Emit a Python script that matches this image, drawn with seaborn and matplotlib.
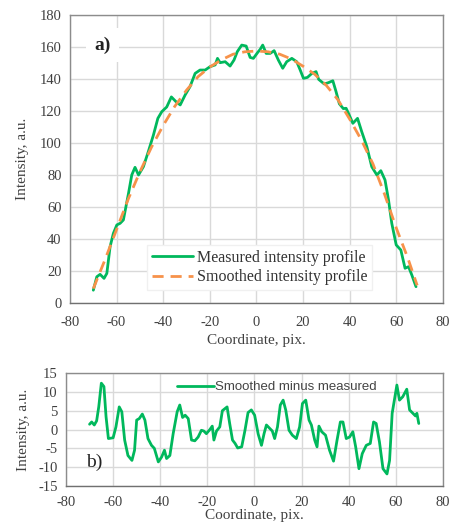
import numpy as np
import pandas as pd
import matplotlib
matplotlib.use("Agg")
import matplotlib.pyplot as plt
import seaborn as sns

# Measured intensity profile (panel a)
meas_x = [-70, -68.5, -67.1, -65.4, -64.2, -62.8, -61.4, -59.9, -58.5, -57.1,
          -56, -54.9, -53.5, -52.1, -50.6, -48.5, -46.4, -44.2, -42.3, -40.6,
          -38.5, -36.5, -34.5, -32.7, -30.6, -28.5, -26.3, -24.2, -22, -19.9,
          -17.7, -16.7, -15.6, -13.4, -11.3, -9.6, -8.2, -6.3, -4.4, -2.7,
          -1.3, 0.5, 1.6, 2.7, 4.2, 5.9, 7.6, 9.4, 11.3, 13,
          15.2, 17.3, 18.8, 20.2, 21.9, 23.8, 25.6, 26.7, 29.1, 30.9,
          32.8, 34.2, 35.6, 37.3, 38.5, 39.5, 41.4, 43.4, 45.2, 47.4,
          49.5, 51.7, 53.4, 55.2, 56.7, 58.1, 60, 62, 63.8, 65.3,
          66.7, 68.5]
meas_y = [8, 16.4, 17.9, 15.4, 18.5, 35.2, 43.5, 48.8, 49.8, 51.9,
          60.2, 68.5, 80, 84.8, 80, 85.2, 94.6, 105, 115.4, 119.6,
          122.5, 128.8, 125.8, 123.8, 130, 135.2, 143.5, 145.6, 145.6, 147.7,
          148.8, 152.9, 150.2, 150.8, 148.1, 151.9, 157.1, 161.2, 160.6, 153.5,
          152.9, 156.5, 158.5, 161.2, 156, 156, 157.7, 151.9, 146.7, 150.8,
          152.9, 150.8, 145.6, 140.4, 141, 143.5, 144.6, 139.8, 136.9, 137.7,
          138.9, 132, 124.5, 121.5, 121.7, 118.6, 112.3, 115.4, 107.1, 97.7,
          85.2, 80, 82.7, 76.9, 64.4, 49.8, 36.3, 33.1, 21.7, 22.7,
          17.5, 10.2]

# Smoothed intensity profile (panel a)
smooth_x = [-70, -65, -60, -55, -50, -45, -40, -35, -30, -25, -20, -15, -10, -5,
            0, 5, 10, 15, 20, 25, 30, 35, 40, 45, 50, 55, 60, 65, 69]
smooth_y = [9, 27, 46, 65, 82, 97.5, 111, 123, 133, 141.5, 147.5, 152, 155.5, 157,
            157.5, 157, 155.5, 152.5, 148, 143, 136, 127, 115, 102, 87, 68, 47, 28, 11]

# Smoothed minus measured (panel b)
diff_x = [-70, -69.1, -68, -67, -66.1, -65, -63.9, -63, -62, -60,
          -58.8, -57.4, -56.3, -55.1, -53.7, -52, -50.9, -50, -48.9, -47.6,
          -46.5, -45.2, -43.7, -42.5, -40.8, -39.4, -38.2, -37.3, -35.9, -34.5,
          -32.8, -31.7, -30.5, -29.4, -28.1, -26.7, -25.3, -23.9, -22.5, -21.5,
          -20.4, -18.9, -17.9, -17.2, -16.1, -14.7, -13.6, -11.6, -10.5, -9.3,
          -8.2, -7.1, -5.4, -4, -2.7, -1.3, 0.1, 1.6, 3, 4.1,
          5.1, 6.5, 7.6, 8.6, 9.8, 11, 12.2, 13.3, 14.7, 16.1,
          17.8, 19.2, 20.4, 21.8, 23.2, 24.2, 25.6, 26.6, 27.4, 28.6,
          30.2, 31.9, 33.6, 35.1, 36.5, 37.6, 39, 40.4, 41.8, 43,
          44.4, 45.8, 47.5, 49.2, 50.6, 51.7, 53.1, 54.6, 56.3, 57.4,
          58.5, 60.5, 61.6, 63, 64.7, 65.9, 67.3, 68.4, 69, 69.8]
diff_y = [1.4, 2, 1.2, 2.3, 6, 12.3, 11.4, 3.4, -2.4, -2.2,
          0.7, 6, 4.7, -2.8, -6.9, -8.2, -5.5, 2.5, 2.9, 4.1,
          2.5, -2.4, -4.2, -5, -8.6, -7.3, -5.5, -7.7, -6.9, -1.1,
          4.7, 6.5, 3.2, 3.8, 2.9, -2.8, -3, -2, -0.2, -0.4,
          -1.1, 0, 0.9, -2.8, -0.4, 0.7, 5, 6, 1.6, -2.8,
          -3.7, -4.9, -4.6, -0.2, 4.5, 5.2, 3.8, -1.2, -4.2, -1.1,
          1.2, 0.3, -0.4, -2.4, 0.7, 6.5, 7.8, 5.2, -0.2, -1.5,
          -2.4, 0.7, 6.9, 7.8, 2.5, 1.2, -2.8, -4.6, 0.9, -0.6,
          -1.5, -5.5, -8.4, -2.8, 2, 2, -2.4, -2, -0.6, -4.6,
          -10.4, -6.4, -4.2, -3.7, 2, 1.6, -3.3, -10.4, -11.8, -8.2,
          4.3, 11.8, 7.8, 8.7, 10.7, 5.2, 4.3, 3.6, 4.3, 1.6]

GREEN = "#00b85c"
ORANGE = "#f7924a"
TICK_COLOR = "#404040"
GRID_COLOR = "#d9d9d9"

sns.set_style("whitegrid")
plt.rcParams["font.family"] = ["Liberation Serif", "DejaVu Serif"]
plt.rcParams["axes.unicode_minus"] = False

fig = plt.figure(figsize=(4.5, 5.3), dpi=100)
ax1 = fig.add_axes([0.1556, 0.4283, 0.8284, 0.5434])
ax2 = fig.add_axes([0.1467, 0.083, 0.8373, 0.2132])

meas_df = pd.DataFrame({"x": meas_x, "y": meas_y})
smooth_df = pd.DataFrame({"x": smooth_x, "y": smooth_y})
diff_df = pd.DataFrame({"x": diff_x, "y": diff_y})

sns.lineplot(data=meas_df, x="x", y="y", ax=ax1, color=GREEN, lw=2.0,
             sort=False, estimator=None, label="Measured intensity profile")
sns.lineplot(data=smooth_df, x="x", y="y", ax=ax1, color=ORANGE, lw=2.0,
             sort=False, estimator=None, label="Smoothed intensity profile")
ax1.lines[1].set_linestyle((0, (4, 2.5)))

sns.lineplot(data=diff_df, x="x", y="y", ax=ax2, color=GREEN, lw=2.0,
             sort=False, estimator=None, label="Smoothed minus measured")

for ln in ax1.lines + ax2.lines:
    ln.set_solid_joinstyle("round")
    ln.set_dash_joinstyle("round")

# panel a axes
ax1.set_xlim(-80, 80)
ax1.set_ylim(0, 180)
ax1.set_xticks(np.arange(-80, 81, 20))
ax1.set_yticks(np.arange(0, 181, 20))
ax1.set_xlabel("Coordinate, pix.", fontsize=11, color=TICK_COLOR, labelpad=4)
ax1.set_ylabel("Intensity, a.u.", fontsize=11, color=TICK_COLOR, labelpad=8)
ax1.tick_params(axis="x", pad=9)
leg1 = ax1.legend(loc="center", bbox_to_anchor=(0.508, 0.123), fontsize=11.5,
                  handlelength=2.6, frameon=True, fancybox=False,
                  borderpad=0.3, labelspacing=0.2, handletextpad=0.2)
leg1.get_frame().set_edgecolor("#f0f0f0")
leg1.get_frame().set_alpha(1)
for t in leg1.get_texts():
    t.set_color("#333333")
ax1.text(0.088, 0.896, "a)", transform=ax1.transAxes, fontsize=14,
         fontweight="bold", color="#222222", ha="center", va="center",
         bbox=dict(facecolor="white", edgecolor="none", pad=6))

# panel b axes
ax2.set_xlim(-80, 80)
ax2.set_ylim(-15, 15)
ax2.set_xticks(np.arange(-80, 81, 20))
ax2.set_yticks(np.arange(-15, 16, 5))
ax2.set_xlabel("Coordinate, pix.", fontsize=11, color=TICK_COLOR, labelpad=0)
ax2.set_ylabel("Intensity, a.u.", fontsize=11, color=TICK_COLOR, labelpad=6)
ax2.tick_params(axis="x", pad=7)
leg2 = ax2.legend(loc="center", bbox_to_anchor=(0.56, 0.875),
                  handlelength=2.8, frameon=False, handletextpad=0.1,
                  prop={"family": ["Liberation Sans", "DejaVu Sans"], "size": 9.5})
for t in leg2.get_texts():
    t.set_color("#444444")
ax2.text(0.074, 0.21, "b)", transform=ax2.transAxes, fontsize=14,
         color="#222222", ha="center", va="center")

for ax in (ax1, ax2):
    ax.grid(True, color=GRID_COLOR, lw=1.0)
    ax.tick_params(axis="both", labelsize=10.5, colors=TICK_COLOR, length=0)
    ax.tick_params(axis="y", pad=6)
    for s in ax.spines.values():
        s.set_color("#8c8c8c")
        s.set_linewidth(1.0)
    ax.spines["bottom"].set_color("#707070")

fig.savefig("out.png", dpi=100)
